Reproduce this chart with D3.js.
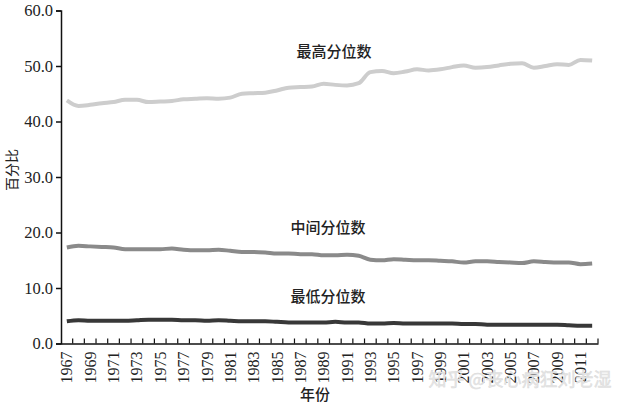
<!DOCTYPE html>
<html><head><meta charset="utf-8">
<script src="https://cdn.jsdelivr.net/npm/d3@7"></script>
<style>body{margin:0;background:#fff}</style>
</head><body>
<svg id="c" width="625" height="413"></svg>
<script>
const years = d3.range(1967, 2013);
const topShare = [43.8,42.8,43.0,43.3,43.5,43.9,43.9,43.5,43.6,43.7,44.0,44.1,44.2,44.1,44.3,45.0,45.1,45.2,45.6,46.1,46.2,46.3,46.8,46.6,46.5,46.9,48.9,49.1,48.7,49.0,49.4,49.2,49.4,49.8,50.1,49.7,49.8,50.1,50.4,50.5,49.7,50.0,50.3,50.2,51.1,51.0];
const midShare = [17.3,17.6,17.5,17.4,17.3,17.0,17.0,17.0,17.0,17.1,16.9,16.8,16.8,16.9,16.7,16.5,16.5,16.4,16.2,16.2,16.1,16.1,15.9,15.9,16.0,15.8,15.1,15.0,15.2,15.1,15.0,15.0,14.9,14.8,14.6,14.8,14.8,14.7,14.6,14.5,14.8,14.7,14.6,14.6,14.3,14.4];
const lowShare = [4.0,4.2,4.1,4.1,4.1,4.1,4.2,4.3,4.3,4.3,4.2,4.2,4.1,4.2,4.1,4.0,4.0,4.0,3.9,3.8,3.8,3.8,3.8,3.9,3.8,3.8,3.6,3.6,3.7,3.6,3.6,3.6,3.6,3.6,3.5,3.5,3.4,3.4,3.4,3.4,3.4,3.4,3.4,3.3,3.2,3.2];
const yTicks = [0,10,20,30,40,50,60];
const seriesNames = ["最高分位数","中间分位数","最低分位数"];
const seriesColors = ["#cdcdcd","#8a8a8a","#383838"];

const svg = d3.select("#c");
const serif = "Liberation Serif, DejaVu Serif, serif";
const cjk = "Noto Sans CJK SC, Noto Sans CJK JP, sans-serif";

const x = d3.scaleBand().domain(years).range([61, 598]).padding(0);
const y = d3.scaleLinear().domain([0, 60]).range([343.5, 10.5]);

// series
const series = [topShare, midShare, lowShare];
const line = d3.line().x((d,i)=>x(years[i]) + x.bandwidth()/2).y(d=>y(d)).curve(d3.curveMonotoneX);
series.forEach((s,k)=>{
  svg.append("path").datum(s).attr("d", line)
    .attr("fill","none").attr("stroke", seriesColors[k]).attr("stroke-width",4)
    .attr("stroke-linejoin","round").attr("stroke-linecap","butt");
});

// y axis
const yAxis = svg.append("g").attr("transform","translate(61,0)")
  .call(d3.axisLeft(y).tickValues(yTicks).tickSize(5).tickFormat(d3.format(".1f")));
yAxis.attr("font-family",null).attr("font-size",null);
yAxis.select(".domain").attr("stroke","#111").attr("stroke-width",1.5);
yAxis.selectAll(".tick line").attr("stroke","#111").attr("stroke-width",1.5);
yAxis.selectAll(".tick text").style("font-family",serif).style("font-size","16.5px").attr("fill","#222").attr("x",-8);

// x axis
const xAxis = svg.append("g").attr("transform","translate(0,343.5)")
  .call(d3.axisBottom(x).tickValues(years.filter(v=>(v-1967)%2===0)).tickSize(0).tickSizeOuter(0));
xAxis.attr("font-family",null).attr("font-size",null);
xAxis.select(".domain").attr("stroke","#111").attr("stroke-width",1.5);
xAxis.selectAll(".tick text")
  .style("font-family",serif).style("font-size","16px").attr("fill","#222")
  .attr("transform","rotate(-90)").attr("text-anchor","end")
  .attr("x",-8).attr("y",0).attr("dy","0.35em");
// boundary ticks
const bounds = years.map(v=>x(v)).concat([x.range()[1]]);
svg.append("g").selectAll("line").data(bounds.slice(1)).join("line")
  .attr("x1",d=>d).attr("x2",d=>d).attr("y1",343.5).attr("y2",338.5)
  .attr("stroke","#111").attr("stroke-width",1.2);

// series labels
const labelPos = [[334,53],[328,229],[328,298]];
seriesNames.forEach((n,k)=>{
  svg.append("text").attr("x",labelPos[k][0]).attr("y",labelPos[k][1])
    .attr("text-anchor","middle").attr("dominant-baseline","middle")
    .style("font-family",cjk).style("font-size","15px").attr("font-weight",500).attr("fill","#222").text(n);
});

// axis titles
svg.append("text").attr("transform","translate(13,170) rotate(-90)")
  .attr("text-anchor","middle").attr("dominant-baseline","middle")
  .style("font-family",cjk).style("font-size","14px").attr("fill","#222").text("百分比");
svg.append("text").attr("x",315).attr("y",396)
  .attr("text-anchor","middle").attr("dominant-baseline","middle")
  .style("font-family",cjk).style("font-size","15px").attr("font-weight",500).attr("fill","#222").text("年份");

// watermark
svg.append("text").attr("x",520).attr("y",381)
  .attr("text-anchor","middle").attr("dominant-baseline","middle")
  .style("font-family",cjk).style("font-size","18px").attr("fill","#e6e6e6").attr("stroke","#d8d8d8").attr("stroke-width",0.4)
  .text("知乎 @丧心病狂刘老湿");
</script>
</body></html>
